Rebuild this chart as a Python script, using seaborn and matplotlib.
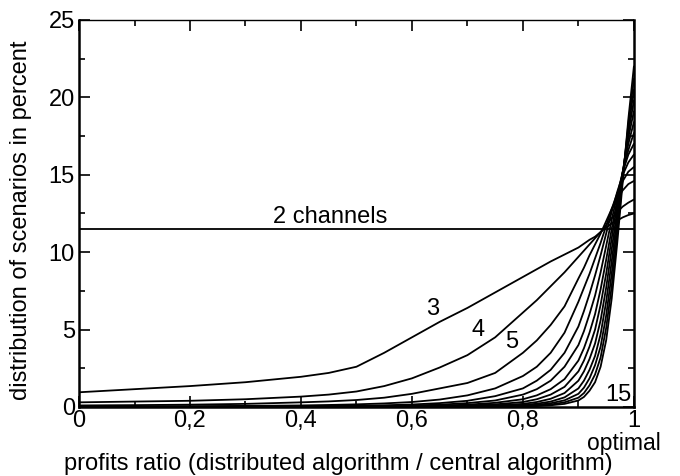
import numpy as np
import pandas as pd
import matplotlib
matplotlib.use("Agg")
import matplotlib.pyplot as plt
import seaborn as sns
from matplotlib.ticker import MultipleLocator

# ---- data ----
x_grid = [0.0, 0.1, 0.2, 0.3, 0.4, 0.45, 0.5, 0.55, 0.6, 0.65, 0.7, 0.75, 0.8, 0.825,
          0.85, 0.875, 0.9, 0.91, 0.92, 0.93, 0.94, 0.95, 0.96, 0.97, 0.98, 0.99, 1.0]

two_channels_x = [0.0, 1.0]
two_channels_y = [11.5, 11.5]

ch3 = [0.95, 1.15, 1.35, 1.6, 1.95, 2.2, 2.6, 3.5, 4.5, 5.5, 6.4, 7.4, 8.4, 8.9,
       9.4, 9.85, 10.3, 10.55, 10.8, 11.0, 11.3, 11.6, 11.85, 12.05, 12.25, 12.4, 12.5]
ch4 = [0.3, 0.35, 0.4, 0.5, 0.67, 0.8, 1.0, 1.35, 1.85, 2.55, 3.35, 4.5, 6.1, 6.9,
       7.8, 8.7, 9.7, 10.1, 10.5, 10.9, 11.3, 11.75, 12.2, 12.6, 12.95, 13.2, 13.4]
ch5 = [0.1, 0.12, 0.15, 0.2, 0.3, 0.36, 0.45, 0.6, 0.85, 1.2, 1.55, 2.2, 3.5, 4.3,
       5.3, 6.5, 8.3, 9.0, 9.8, 10.5, 11.2, 12.0, 12.8, 13.5, 14.0, 14.4, 14.6]
ch6 = [0.03, 0.04, 0.05, 0.07, 0.1, 0.13, 0.17, 0.23, 0.32, 0.48, 0.75, 1.2, 2.0, 2.6,
       3.5, 4.8, 6.8, 7.7, 8.6, 9.6, 10.6, 11.7, 12.8, 13.8, 14.6, 15.2, 15.5]
ch7 = [0.01, 0.01, 0.02, 0.03, 0.05, 0.06, 0.08, 0.11, 0.16, 0.25, 0.4, 0.7, 1.2, 1.7,
       2.4, 3.5, 5.2, 6.2, 7.3, 8.5, 9.8, 11.2, 12.6, 13.9, 15.0, 15.8, 16.3]
ch8 = [0.0, 0.01, 0.01, 0.02, 0.03, 0.04, 0.05, 0.07, 0.1, 0.15, 0.25, 0.42, 0.8, 1.15,
       1.7, 2.6, 4.0, 4.9, 6.0, 7.2, 8.7, 10.4, 12.1, 13.7, 15.2, 16.3, 17.0]
ch9 = [0.0, 0.0, 0.01, 0.01, 0.02, 0.02, 0.03, 0.04, 0.06, 0.09, 0.15, 0.27, 0.5, 0.75,
       1.15, 1.8, 3.0, 3.8, 4.8, 6.0, 7.6, 9.5, 11.5, 13.4, 15.2, 16.6, 17.7]
ch10 = [0.0, 0.0, 0.0, 0.01, 0.01, 0.01, 0.02, 0.03, 0.04, 0.06, 0.1, 0.17, 0.32, 0.5,
        0.8, 1.3, 2.3, 3.0, 3.9, 5.0, 6.6, 8.6, 10.9, 13.1, 15.2, 17.0, 18.4]
ch11 = [0.0, 0.0, 0.0, 0.0, 0.01, 0.01, 0.01, 0.02, 0.03, 0.04, 0.06, 0.11, 0.2, 0.32,
        0.53, 0.9, 1.7, 2.3, 3.1, 4.1, 5.6, 7.7, 10.2, 12.7, 15.2, 17.4, 19.1]
ch12 = [0.0, 0.0, 0.0, 0.0, 0.0, 0.0, 0.01, 0.01, 0.02, 0.03, 0.04, 0.07, 0.13, 0.21,
        0.35, 0.62, 1.2, 1.7, 2.4, 3.3, 4.7, 6.8, 9.4, 12.3, 15.1, 17.7, 19.8]
ch13 = [0.0, 0.0, 0.0, 0.0, 0.0, 0.0, 0.0, 0.01, 0.01, 0.02, 0.03, 0.05, 0.08, 0.14,
        0.24, 0.43, 0.85, 1.25, 1.85, 2.7, 3.9, 5.9, 8.6, 11.8, 15.0, 18.0, 20.5]
ch14 = [0.0, 0.0, 0.0, 0.0, 0.0, 0.0, 0.0, 0.0, 0.01, 0.01, 0.02, 0.03, 0.05, 0.09,
        0.16, 0.3, 0.6, 0.9, 1.4, 2.1, 3.2, 5.1, 7.8, 11.2, 14.8, 18.3, 21.2]
ch15 = [0.0, 0.0, 0.0, 0.0, 0.0, 0.0, 0.0, 0.0, 0.0, 0.01, 0.01, 0.02, 0.03, 0.06,
        0.11, 0.2, 0.42, 0.65, 1.05, 1.6, 2.6, 4.3, 7.0, 10.6, 14.6, 18.6, 22.0]

curves = {3: ch3, 4: ch4, 5: ch5, 6: ch6, 7: ch7, 8: ch8, 9: ch9, 10: ch10,
          11: ch11, 12: ch12, 13: ch13, 14: ch14, 15: ch15}

x_ticks = [0, 0.2, 0.4, 0.6, 0.8, 1.0]
x_tick_labels = ["0", "0,2", "0,4", "0,6", "0,8", "1"]
y_ticks = [0, 5, 10, 15, 20, 25]

# ---- long table ----
rows = []
for xv, yv in zip(two_channels_x, two_channels_y):
    rows.append({"x": xv, "y": yv, "channels": 2})
for k, vals in curves.items():
    for xv, yv in zip(x_grid, vals):
        rows.append({"x": xv, "y": yv, "channels": k})
df = pd.DataFrame(rows)

# ---- style ----
sns.set_theme(style="ticks")
plt.rcParams["font.family"] = ["Liberation Sans", "DejaVu Sans"]
plt.rcParams["text.color"] = "black"
FS = 17

fig = plt.figure(figsize=(6.8, 4.76), dpi=100)
ax = fig.add_axes([0.1162, 0.145, 0.816, 0.813])

sns.lineplot(data=df, x="x", y="y", units="channels", estimator=None,
             color="black", linewidth=1.3, ax=ax, legend=False)

ax.set_xlim(0, 1)
ax.set_ylim(0, 25)
ax.set_xticks(x_ticks)
ax.set_xticklabels(x_tick_labels)
ax.set_yticks(y_ticks)
ax.xaxis.set_minor_locator(MultipleLocator(0.1))
ax.yaxis.set_minor_locator(MultipleLocator(2.5))

ax.tick_params(which="both", direction="in", top=True, right=True,
               color="black", width=1.2, labelsize=FS, labelcolor="black")
ax.tick_params(which="major", length=8)
ax.tick_params(which="minor", length=4)
ax.tick_params(axis="x", which="major", pad=2.5)
ax.tick_params(axis="y", which="major", pad=3)

for side in ["left", "right", "bottom"]:
    ax.spines[side].set_linewidth(1.8)
    ax.spines[side].set_color("black")
ax.spines["top"].set_linewidth(1.0)
ax.spines["top"].set_color("black")

ax.set_xlabel("profits ratio (distributed algorithm / central algorithm)",
              fontsize=FS, color="black")
ax.set_ylabel("distribution of scenarios in percent", fontsize=FS, color="black")
ax.xaxis.set_label_coords(0.468, -0.12)
ax.yaxis.set_label_coords(-0.085, 0.483)

# annotations
ax.text(0.452, 12.3, "2 channels", fontsize=FS, ha="center", va="center")
ax.text(0.638, 6.3, "3", fontsize=FS, ha="center", va="center")
ax.text(0.719, 5.0, "4", fontsize=FS, ha="center", va="center")
ax.text(0.780, 4.2, "5", fontsize=FS, ha="center", va="center")
ax.text(0.972, 0.75, "15", fontsize=FS, ha="center", va="center")
ax.text(0.982, -2.38, "optimal", fontsize=16.5, ha="center", va="center",
        clip_on=False)

fig.savefig("out.png", dpi=100, facecolor="white")
